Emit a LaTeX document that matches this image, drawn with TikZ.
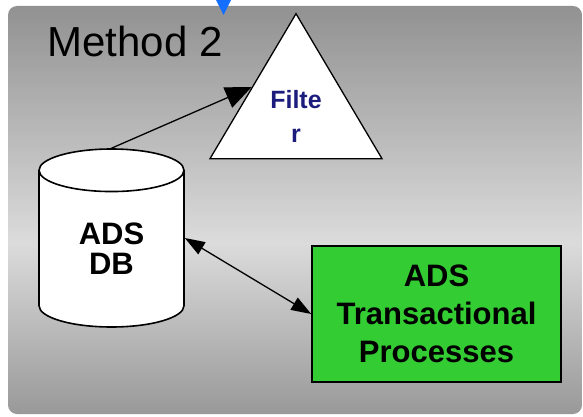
\documentclass[tikz,border=0pt]{standalone}
\usepackage{fontspec}
\setmainfont{Liberation Sans}
\usetikzlibrary{shapes.geometric,arrows.meta,calc}

\definecolor{procgreen}{RGB}{51,204,51}
\definecolor{filternavy}{RGB}{28,28,125}
\definecolor{markerblue}{RGB}{20,110,255}
\pgfdeclareverticalshading{panelshade}{100bp}{color(0bp)=(black!40); color(25bp)=(black!40); color(46bp)=(black!14); color(75bp)=(black!43); color(100bp)=(black!43)}

\tikzset{
  dbcyl/.style={cylinder, shape border rotate=90, aspect=0.65, draw=black, line width=1.6pt, fill=white, minimum width=145pt, minimum height=178pt, inner sep=0pt, align=center, font=\fontsize{31}{30}\selectfont\bfseries},
  filtertri/.style={isosceles triangle, isosceles triangle stretches, shape border rotate=90, draw=black, line width=1.3pt, fill=white, minimum width=172pt, minimum height=145pt, inner sep=0pt},
  procbox/.style={rectangle, draw=black, line width=1.6pt, fill=procgreen, minimum width=249pt, minimum height=136pt, align=center, font=\fontsize{31}{38}\selectfont\bfseries},
  filtertext/.style={align=center, text=filternavy, font=\fontsize{25}{34}\selectfont\bfseries},
  link/.style={line width=1.3pt, -{Triangle[length=26pt,width=22pt]}},
  twoway/.style={line width=1.3pt, {Triangle[length=20pt,width=14pt]}-{Triangle[length=20pt,width=14pt]}},
}

\begin{document}
\begin{tikzpicture}[x=1pt, y=-1pt]
  \useasboundingbox (0,0) rectangle (583,417);

  % grey panel
  \shade[shading=panelshade, rounded corners=9pt] (8,6) rectangle (582,414);
  \fill[markerblue] (216,0) -- (231,0) -- (223.5,15) -- cycle;

  \node[anchor=base west, font=\fontsize{42}{50}\selectfont] (title) at (44,57) {Method 2};

  \node[dbcyl, anchor=shape center] (db) at (111.5,238) {ADS\\DB};

  \node[filtertri, anchor=apex] (filter) at (296,12) {};
  \node[filtertext] (filterlabel) at (296,116) {Filte\\r};

  \node[procbox] (proc) at (436.5,314) {ADS\\Transactional\\Processes};

  \draw[link] (db.top) -- ($(filter.left corner)!0.49!(filter.apex)$);
  \draw[twoway] (db.east |- db.shape center) -- (proc.west);

\end{tikzpicture}
\end{document}
